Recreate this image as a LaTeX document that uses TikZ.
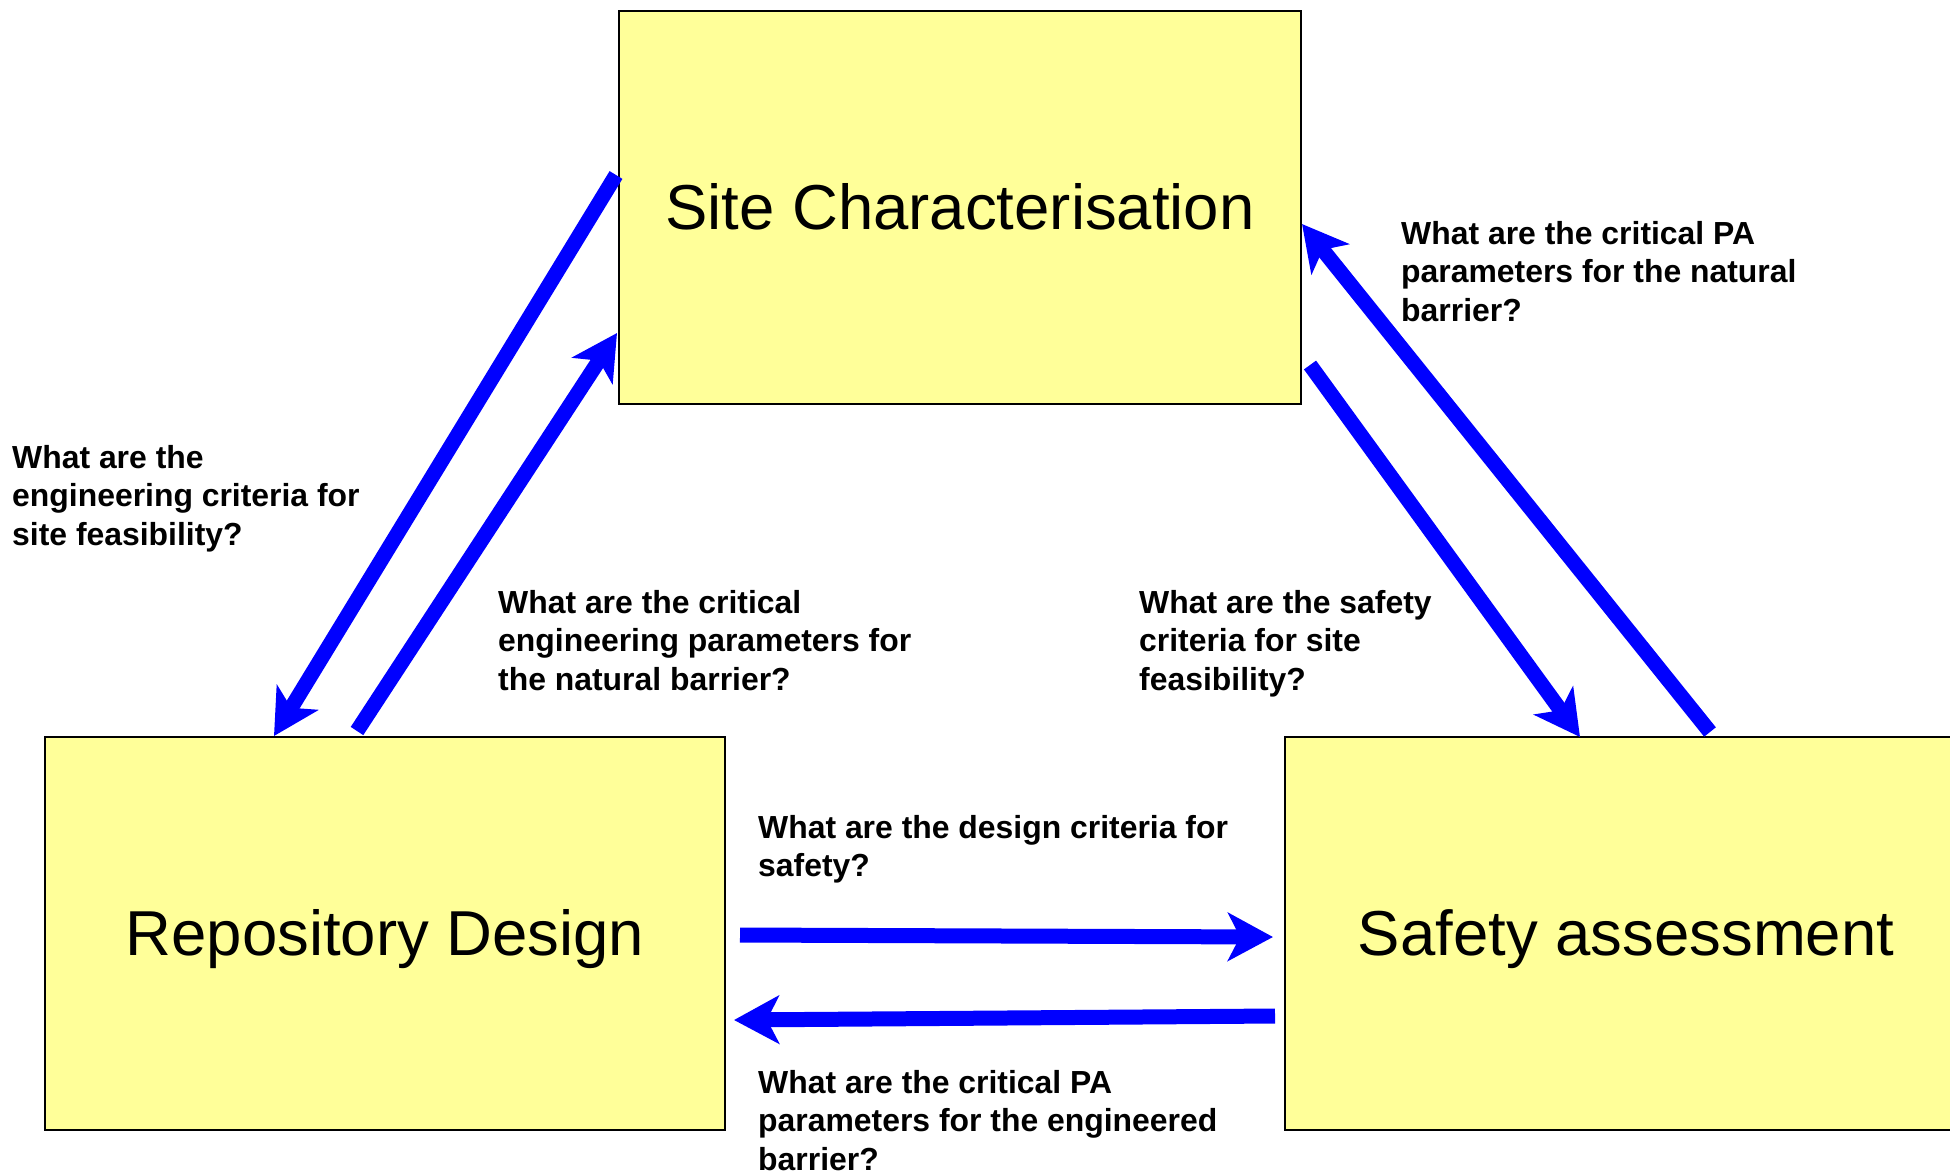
\documentclass[tikz,border=0pt]{standalone}
\usepackage{fontspec}
\setmainfont{Liberation Sans}
\usetikzlibrary{arrows.meta}
\definecolor{boxyellow}{RGB}{255,255,153}
\begin{document}
\begin{tikzpicture}[x=1pt,y=-1pt,
  box/.style={draw=black, line width=2.5pt, fill=boxyellow, minimum width=682pt,
    minimum height=393pt, inner sep=0pt, font=\fontsize{63.5}{76}\selectfont,
    text height=46pt, text depth=3pt},
  lbl/.style={anchor=north west, inner sep=0pt, align=left,
    font=\bfseries\fontsize{31.9}{38.5}\selectfont},
  flow/.style={draw=blue, line width=15pt,
    -{Stealth[length=45pt,width=48pt,inset=12pt]}}]
\useasboundingbox (0,0) rectangle (1950,1171);
\clip (0,0) rectangle (1950,1171);
\fill[white] (0,0) rectangle (1950,1171);

\node[box] (site) at (960,207.5) {Site Characterisation};
\node[box, minimum width=680pt] (repo) at (385,933.5) {Repository Design};
\node[box] (safety) at (1626,933.5) {Safety assessment};

% arrow end points
\coordinate (a1s) at (616,175);  \coordinate (a1e) at (274,736);
\coordinate (a2s) at (357,731);  \coordinate (a2e) at (617,333);
\coordinate (a3s) at (1710,732); \coordinate (a3e) at (1302,224);
\coordinate (a4s) at (1310,365); \coordinate (a4e) at (1580,737);
\coordinate (a5s) at (740,935);  \coordinate (a5e) at (1273,937);
\coordinate (a6s) at (1275,1016); \coordinate (a6e) at (734,1020);

\draw[flow] (a1s) -- (a1e);
\draw[flow] (a2s) -- (a2e);
\draw[flow] (a3s) -- (a3e);
\draw[flow] (a4s) -- (a4e);
\draw[flow] (a5s) -- (a5e);
\draw[flow] (a6s) -- (a6e);

\node[lbl] (l1) at (12,445) {What are the\\engineering criteria for\\site feasibility?};
\node[lbl] (l2) at (498,590) {What are the critical\\engineering parameters for\\the natural barrier?};
\node[lbl] (l3) at (1139,590) {What are the safety\\criteria for site\\feasibility?};
\node[lbl] (l4) at (1401,221) {What are the critical PA\\parameters for the natural\\barrier?};
\node[lbl] (l5) at (758,815) {What are the design criteria for\\safety?};
\node[lbl] (l6) at (758,1070) {What are the critical PA\\parameters for the engineered\\barrier?};
\end{tikzpicture}
\end{document}
